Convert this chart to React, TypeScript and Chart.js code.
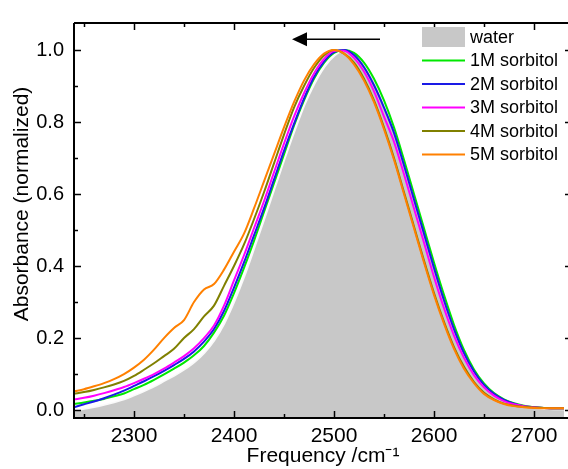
import React, { useEffect, useRef } from "react";
import { Chart, registerables } from "chart.js";

Chart.register(...registerables);

const freq = [2240, 2250, 2260, 2270, 2280, 2290, 2300, 2310, 2320, 2330, 2340, 2350, 2360, 2370, 2380, 2390, 2400, 2410, 2420, 2430, 2440, 2450, 2460, 2470, 2480, 2490, 2500, 2510, 2520, 2530, 2540, 2550, 2560, 2570, 2580, 2590, 2600, 2610, 2620, 2630, 2640, 2650, 2660, 2670, 2680, 2690, 2700, 2710, 2720, 2730];

const water = [0.000, 0.005, 0.010, 0.016, 0.023, 0.031, 0.042, 0.054, 0.067, 0.082, 0.097, 0.114, 0.134, 0.160, 0.195, 0.242, 0.303, 0.373, 0.452, 0.533, 0.615, 0.697, 0.775, 0.848, 0.907, 0.954, 0.985, 1.000, 0.993, 0.965, 0.920, 0.858, 0.780, 0.690, 0.595, 0.500, 0.405, 0.315, 0.232, 0.163, 0.110, 0.072, 0.046, 0.029, 0.018, 0.011, 0.007, 0.005, 0.004, 0.004];
const m1 = [0.017, 0.021, 0.026, 0.031, 0.038, 0.046, 0.058, 0.070, 0.084, 0.099, 0.115, 0.132, 0.152, 0.178, 0.215, 0.262, 0.325, 0.395, 0.470, 0.550, 0.630, 0.710, 0.790, 0.860, 0.920, 0.964, 0.992, 1.000, 0.992, 0.965, 0.920, 0.860, 0.785, 0.695, 0.600, 0.505, 0.410, 0.320, 0.237, 0.167, 0.113, 0.074, 0.047, 0.030, 0.019, 0.012, 0.008, 0.006, 0.005, 0.005];
const m2 = [0.008, 0.016, 0.024, 0.033, 0.043, 0.054, 0.067, 0.080, 0.094, 0.109, 0.125, 0.142, 0.163, 0.190, 0.225, 0.275, 0.340, 0.410, 0.485, 0.560, 0.640, 0.720, 0.795, 0.865, 0.925, 0.968, 0.994, 1.000, 0.986, 0.952, 0.902, 0.840, 0.770, 0.680, 0.585, 0.490, 0.395, 0.305, 0.225, 0.158, 0.107, 0.070, 0.045, 0.028, 0.018, 0.011, 0.008, 0.006, 0.005, 0.005];
const m3 = [0.029, 0.034, 0.040, 0.047, 0.055, 0.064, 0.075, 0.087, 0.100, 0.115, 0.132, 0.150, 0.172, 0.200, 0.235, 0.290, 0.360, 0.430, 0.505, 0.580, 0.660, 0.740, 0.815, 0.880, 0.935, 0.975, 0.997, 0.998, 0.978, 0.940, 0.885, 0.815, 0.745, 0.655, 0.560, 0.465, 0.370, 0.283, 0.207, 0.145, 0.097, 0.063, 0.040, 0.025, 0.016, 0.011, 0.008, 0.006, 0.005, 0.005];
const m4 = [0.045, 0.050, 0.056, 0.063, 0.071, 0.081, 0.095, 0.112, 0.130, 0.150, 0.170, 0.200, 0.225, 0.260, 0.290, 0.345, 0.400, 0.460, 0.530, 0.605, 0.685, 0.765, 0.840, 0.900, 0.950, 0.985, 1.000, 0.990, 0.965, 0.920, 0.860, 0.785, 0.700, 0.605, 0.510, 0.415, 0.325, 0.245, 0.175, 0.120, 0.078, 0.048, 0.030, 0.018, 0.012, 0.009, 0.007, 0.006, 0.005, 0.005];
const m5 = [0.052, 0.058, 0.066, 0.075, 0.086, 0.100, 0.118, 0.140, 0.168, 0.200, 0.228, 0.250, 0.300, 0.335, 0.350, 0.390, 0.440, 0.490, 0.560, 0.635, 0.710, 0.785, 0.855, 0.915, 0.960, 0.990, 1.000, 0.990, 0.960, 0.915, 0.855, 0.780, 0.695, 0.600, 0.505, 0.410, 0.320, 0.240, 0.170, 0.115, 0.075, 0.045, 0.028, 0.017, 0.011, 0.008, 0.006, 0.005, 0.005, 0.005];

const seriesNames = ["water", "1M sorbitol", "2M sorbitol", "3M sorbitol", "4M sorbitol", "5M sorbitol"];
const seriesColors = ["#c8c8c8", "#00e800", "#1a1ae6", "#ff00ff", "#808000", "#ff8000"];

const xMajorTicks = [2300, 2400, 2500, 2600, 2700];
const xMinorTicks = [2250, 2350, 2450, 2550, 2650];
const yMajorTicks = [0.0, 0.2, 0.4, 0.6, 0.8, 1.0];
const yMinorTicks = [0.1, 0.3, 0.5, 0.7, 0.9];
const xRange = [2240, 2738];
const yRange = [-0.022, 1.075];
const arrowStart = [2546, 1.03];
const arrowEnd = [2458, 1.03];
const xTitle = "Frequency /cm⁻¹";
const yTitle = "Absorbance (normalized)";

const FONT = "'Liberation Sans', Arial, sans-serif";

const framePlugin = {
  id: "frame",
  afterDatasetsDraw(chart: any) {
    const { ctx, chartArea: a, scales } = chart;
    const xs = scales.x;
    const ys = scales.y;
    ctx.save();
    ctx.strokeStyle = "#000";
    ctx.lineWidth = 2;
    ctx.beginPath();
    ctx.moveTo(a.left, a.top);
    ctx.lineTo(a.right, a.top);
    ctx.moveTo(a.left, a.top);
    ctx.lineTo(a.left, a.bottom);
    ctx.lineTo(a.right, a.bottom);
    ctx.lineTo(a.right, a.top);
    ctx.stroke();
    ctx.lineWidth = 1.5;
    const drawX = (vals: number[], len: number) => {
      vals.forEach((v) => {
        const px = Math.round(xs.getPixelForValue(v)) + 0.5;
        ctx.beginPath();
        ctx.moveTo(px, a.bottom);
        ctx.lineTo(px, a.bottom - len);
        ctx.moveTo(px, a.top);
        ctx.lineTo(px, a.top + len);
        ctx.stroke();
      });
    };
    const drawY = (vals: number[], len: number) => {
      vals.forEach((v) => {
        const py = Math.round(ys.getPixelForValue(v)) + 0.5;
        ctx.beginPath();
        ctx.moveTo(a.left, py);
        ctx.lineTo(a.left + len, py);
        ctx.moveTo(a.right, py);
        ctx.lineTo(a.right - len, py);
        ctx.stroke();
      });
    };
    drawX(xMajorTicks, 7);
    drawX(xMinorTicks, 4);
    drawY(yMajorTicks, 7);
    drawY(yMinorTicks, 4);

    // arrow
    const x0 = xs.getPixelForValue(arrowStart[0]);
    const y0 = ys.getPixelForValue(arrowStart[1]);
    const x1 = xs.getPixelForValue(arrowEnd[0]);
    const y1 = ys.getPixelForValue(arrowEnd[1]);
    ctx.lineWidth = 1.5;
    ctx.beginPath();
    ctx.moveTo(x0, y0);
    ctx.lineTo(x1 + 10, y1);
    ctx.stroke();
    ctx.fillStyle = "#000";
    ctx.beginPath();
    ctx.moveTo(x1, y1);
    ctx.lineTo(x1 + 15, y1 - 7);
    ctx.lineTo(x1 + 15, y1 + 7);
    ctx.closePath();
    ctx.fill();

    // legend
    const lx = a.right - 150;
    const tx = lx + 48;
    const ly = a.top + 14;
    const step = 23.5;
    ctx.font = `18px ${FONT}`;
    ctx.textBaseline = "middle";
    ctx.textAlign = "left";
    seriesNames.forEach((name, i) => {
      const cy = ly + i * step;
      if (i === 0) {
        ctx.fillStyle = seriesColors[0];
        ctx.fillRect(lx, cy - 10, 43, 20);
      } else {
        ctx.strokeStyle = seriesColors[i];
        ctx.lineWidth = 2;
        ctx.beginPath();
        ctx.moveTo(lx, cy);
        ctx.lineTo(lx + 43, cy);
        ctx.stroke();
      }
      ctx.fillStyle = "#000";
      ctx.fillText(name, tx, cy + 1);
    });

    // y axis title
    ctx.save();
    ctx.translate(22, a.top + 181);
    ctx.rotate(-Math.PI / 2);
    ctx.font = `21px ${FONT}`;
    ctx.textAlign = "center";
    ctx.textBaseline = "middle";
    ctx.fillStyle = "#000";
    ctx.fillText(yTitle, 0, 0);
    ctx.restore();

    ctx.restore();
  },
};

export default function App() {
  const ref = useRef<HTMLCanvasElement | null>(null);
  useEffect(() => {
    if (!ref.current) return;
    const seriesData = [water, m1, m2, m3, m4, m5];
    const datasets = seriesData.map((arr, i) => ({
      label: seriesNames[i],
      data: arr.map((y, k) => ({ x: freq[k], y })),
      borderColor: i === 0 ? "rgba(255,255,255,0.9)" : seriesColors[i],
      backgroundColor: seriesColors[i],
      borderWidth: i === 0 ? 3 : 2,
      fill: i === 0 ? "start" : false,
      pointRadius: 0,
      tension: 0.4,
      cubicInterpolationMode: "monotone" as const,
      order: i === 0 ? 10 : 6 - i,
    }));
    const chart = new Chart(ref.current, {
      type: "line",
      data: { datasets },
      plugins: [framePlugin],
      options: {
        animation: false,
        responsive: false,
        devicePixelRatio: 1,
        layout: { padding: { top: 23, right: 0, bottom: 0, left: 0 } },
        plugins: { legend: { display: false }, tooltip: { enabled: false } },
        scales: {
          x: {
            type: "linear",
            min: xRange[0],
            max: xRange[1],
            grid: { display: false, drawTicks: false },
            border: { display: false },
            afterBuildTicks: (s: any) => {
              s.ticks = xMajorTicks.map((v) => ({ value: v }));
            },
            afterFit: (s: any) => {
              s.height = 51;
            },
            ticks: {
              padding: 6,
              color: "#000",
              font: { family: FONT, size: 21 },
              maxRotation: 0,
              autoSkip: false,
              callback: (v: any) => String(v),
            },
            title: {
              display: true,
              text: xTitle,
              color: "#000",
              font: { family: FONT, size: 21 },
              padding: { top: 0, bottom: 0 },
            },
          },
          y: {
            type: "linear",
            min: yRange[0],
            max: yRange[1],
            grid: { display: false, drawTicks: false },
            border: { display: false },
            afterBuildTicks: (s: any) => {
              s.ticks = yMajorTicks.map((v) => ({ value: v }));
            },
            afterFit: (s: any) => {
              s.width = 74;
            },
            ticks: {
              padding: 10,
              color: "#000",
              font: { family: FONT, size: 20 },
              callback: (v: any) => Number(v).toFixed(1),
            },
            title: { display: false },
          },
        },
      },
    });
    return () => chart.destroy();
  }, []);
  return (
    <div style={{ position: "fixed", left: 0, top: 0, width: 568, height: 469, background: "#fff", overflow: "hidden" }}>
      <canvas ref={ref} width={572} height={469} style={{ display: "block" }} />
    </div>
  );
}
